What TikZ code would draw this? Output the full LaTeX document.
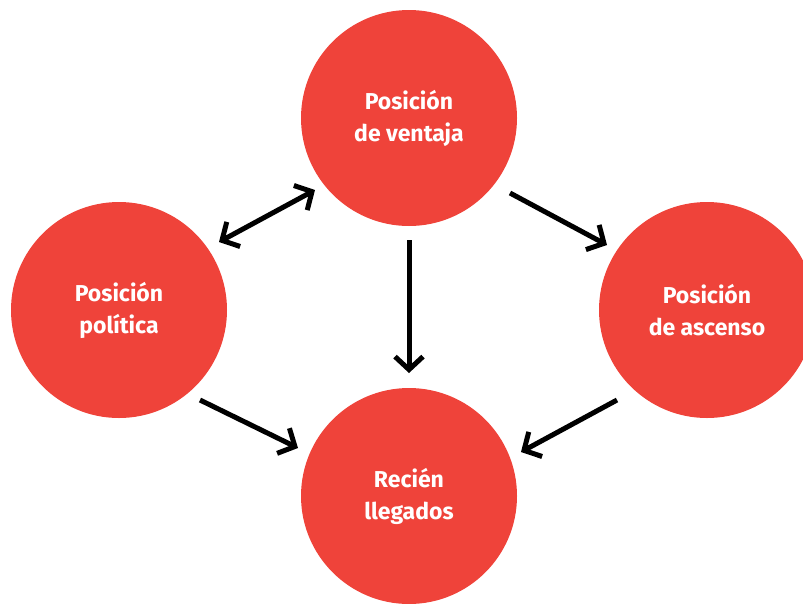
\documentclass[tikz,border=0pt]{standalone}
\usepackage{fontspec}
\setmainfont{Fira Sans}
\usetikzlibrary{arrows.meta}
\definecolor{circred}{HTML}{EF433A}
\tikzset{
  x=1pt,y=-1pt,
  circ/.style={circle,fill=circred,minimum size=216pt,inner sep=0pt,text=white,
    font=\fontsize{23}{32}\selectfont\bfseries,align=center},
  conn/.style={line width=5pt,-{Straight Barb[length=13pt,width=28pt,line width=5pt]}},
  conn2/.style={line width=5pt,{Straight Barb[length=13pt,width=28pt,line width=5pt]}-{Straight Barb[length=13pt,width=28pt,line width=5pt]}}
}
\begin{document}
\begin{tikzpicture}
\useasboundingbox (0,0) rectangle (803,603);
\node[circ] (top) at (409,118) {\raisebox{-2pt}{Posición}\\\raisebox{-2pt}{de ventaja}};
\node[circ] (left) at (119,310) {\raisebox{-2pt}{Posición}\\\raisebox{-2pt}{política}};
\node[circ] (right) at (707,310) {\raisebox{-2pt}{Posición}\\\raisebox{-2pt}{de ascenso}};
\node[circ] (bot) at (409,496) {\raisebox{-2pt}{Recién}\\\raisebox{-2pt}{llegados}};
\coordinate (a1) at (219,242);
\coordinate (a2) at (315,190);
\coordinate (b1) at (409,240);
\coordinate (b2) at (409,373);
\coordinate (c1) at (510,193);
\coordinate (c2) at (607,245);
\coordinate (d1) at (200,400);
\coordinate (d2) at (298,448);
\coordinate (e1) at (617,400);
\coordinate (e2) at (521,452);
\draw[conn2] (a1) -- (a2);
\draw[conn] (b1) -- (b2);
\draw[conn] (c1) -- (c2);
\draw[conn] (d1) -- (d2);
\draw[conn] (e1) -- (e2);
\end{tikzpicture}
\end{document}
